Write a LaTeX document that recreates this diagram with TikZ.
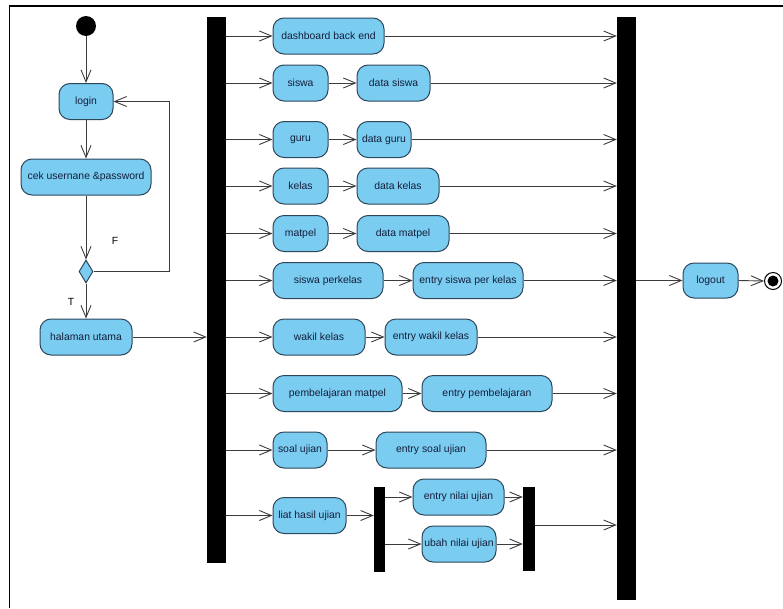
\documentclass[tikz,border=0pt]{standalone}
\usepackage{fontspec}
\setmainfont{Liberation Sans}
\usetikzlibrary{arrows.meta,shapes.geometric}
\definecolor{actfill}{RGB}{122,204,240}
\definecolor{actdraw}{RGB}{45,70,90}
\definecolor{linec}{RGB}{60,60,60}
\definecolor{txt}{RGB}{20,30,60}
\begin{document}
\begin{tikzpicture}[x=1pt,y=-1pt,
  act/.style={rectangle, rounded corners=11pt, draw=actdraw, line width=1pt, fill=actfill,
    text=txt, font=\fontsize{10.4}{12}\selectfont, inner sep=0pt, minimum height=36pt},
  syncbar/.style={rectangle, fill=black, draw=none, inner sep=0pt},
  flow/.style={draw=linec, line width=0.9pt, -{Straight Barb[length=12pt,width=10pt,line width=0.9pt]}},
  lbl/.style={text=black, font=\fontsize{10.4}{12}\selectfont, inner sep=0pt},
  startc/.style={circle, fill=black, minimum size=20pt, inner sep=0pt},
  endc/.style={circle, draw=black, line width=1pt, fill=white, minimum size=17pt, inner sep=0pt,
    path picture={\fill[black] (path picture bounding box.center) circle (5.5pt);}},
  decision/.style={diamond, draw=actdraw, line width=1pt, fill=actfill, minimum width=14pt, minimum height=23pt, inner sep=0pt}
]
\useasboundingbox (0,0) rectangle (783,608);
% frame
\draw[line width=1.2pt] (9.5,608) -- (9.5,6) -- (783,6);

% left column
\node[startc] (start) at (86,26) {};
\node[act, minimum width=54pt] (login) at (86,101.5) {login};
\node[act, minimum width=130pt] (cek) at (86,177) {cek usernane \&password};
\node[decision] (dec) at (86,271.5) {};
\node[act, minimum width=92pt] (home) at (86,337) {halaman utama};
\coordinate (lp) at (169,101.5);
\node[lbl] (F) at (115,241) {F};
\node[lbl] (T) at (71,302) {T};

% bars
\node[syncbar, minimum width=19pt, minimum height=546pt] (barL) at (216.5,290) {};
\node[syncbar, minimum width=19pt, minimum height=583pt] (barR) at (626.5,308.5) {};
\node[syncbar, minimum width=11pt, minimum height=85pt] (bar1) at (379.5,529.5) {};
\node[syncbar, minimum width=12pt, minimum height=84pt] (bar2) at (529,529) {};

% rows
\node[act, minimum width=111pt] (dash) at (328.5,36) {dashboard back end};
\node[act, minimum width=55pt] (siswa) at (300.5,83) {siswa};
\node[act, minimum width=73pt] (dsiswa) at (393.5,83) {data siswa};
\node[act, minimum width=55pt] (guru) at (300.5,139.5) {guru};
\node[act, minimum width=54pt] (dguru) at (384,139.5) {data guru};
\node[act, minimum width=55pt] (kelas) at (300.5,186) {kelas};
\node[act, minimum width=82pt] (dkelas) at (398,186) {data kelas};
\node[act, minimum width=55pt] (matpel) at (300.5,233.5) {matpel};
\node[act, minimum width=92pt] (dmatpel) at (403,233.5) {data matpel};
\node[act, minimum width=110pt] (spk) at (328,280.5) {siswa perkelas};
\node[act, minimum width=110pt] (espk) at (468,280.5) {entry siswa per kelas};
\node[act, minimum width=92pt] (wakil) at (319,337) {wakil kelas};
\node[act, minimum width=92pt] (ewakil) at (431,337) {entry wakil kelas};
\node[act, minimum width=129pt] (pmb) at (337.5,393.5) {pembelajaran matpel};
\node[act, minimum width=130pt] (epmb) at (487,393.5) {entry pembelajaran};
\node[act, minimum width=54pt] (soal) at (300,450) {soal ujian};
\node[act, minimum width=110pt] (esoal) at (431,450) {entry soal ujian};
\node[act, minimum width=73pt] (liat) at (309.5,515.5) {liat hasil ujian};
\node[act, minimum width=91pt] (enil) at (458.5,497) {entry nilai ujian};
\node[act, minimum width=74pt] (ubah) at (459,544) {ubah nilai ujian};
\node[act, minimum width=55pt, minimum height=35pt] (logout) at (710.5,280.5) {logout};
\node[endc] (end) at (773,281) {};

% left column flows
\draw[flow] (start) -- (login);
\draw[flow] (login) -- (cek);
\draw[flow] (cek) -- (dec);
\draw[flow] (dec) -- (home);
\draw[flow] (dec.east) -| (lp) -- (login.east);
\draw[flow] (home.east) -- (home -| barL.west);

% fork to rows
\foreach \n in {dash,siswa,guru,kelas,matpel,spk,wakil,pmb,soal,liat}
  \draw[flow] (\n -| barL.east) -- (\n.west);
\draw[flow] (siswa) -- (dsiswa);
\draw[flow] (guru) -- (dguru);
\draw[flow] (kelas) -- (dkelas);
\draw[flow] (matpel) -- (dmatpel);
\draw[flow] (spk) -- (espk);
\draw[flow] (wakil) -- (ewakil);
\draw[flow] (pmb) -- (epmb);
\draw[flow] (soal) -- (esoal);
% join to right bar
\foreach \n in {dash,dsiswa,dguru,dkelas,dmatpel,espk,ewakil,epmb,esoal}
  \draw[flow] (\n.east) -- (\n -| barR.west);

% nested fork/join
\draw[flow] (liat.east) -- (liat -| bar1.west);
\draw[flow] (enil -| bar1.east) -- (enil.west);
\draw[flow] (ubah -| bar1.east) -- (ubah.west);
\draw[flow] (enil.east) -- (enil -| bar2.west);
\draw[flow] (ubah.east) -- (ubah -| bar2.west);
\draw[flow] ([yshift=4pt]bar2.east) -- ([yshift=4pt]bar2.east -| barR.west);

% logout
\draw[flow] (logout -| barR.east) -- (logout.west);
\draw[flow] (logout.east) -- (end.west);
\end{tikzpicture}
\end{document}
